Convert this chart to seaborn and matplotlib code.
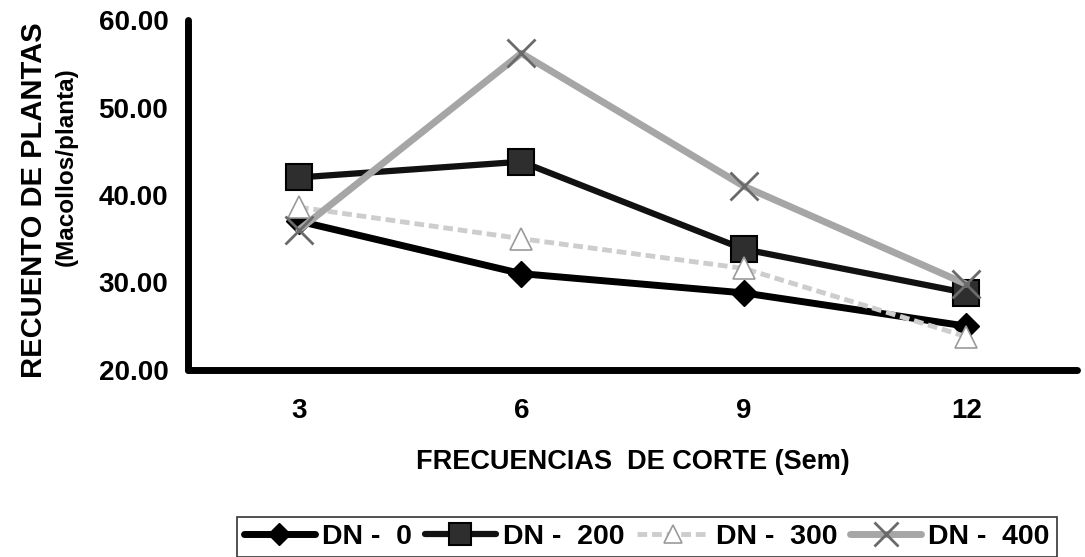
import matplotlib
matplotlib.use("Agg")
import matplotlib.pyplot as plt
from matplotlib.lines import Line2D
import seaborn as sns
import pandas as pd

# Cutting frequency (weeks) and tiller counts per nitrogen dose
frecuencias = ["3", "6", "9", "12"]
dn_0 = [37.0, 31.0, 28.8, 25.0]
dn_200 = [42.0, 43.8, 33.8, 28.8]
dn_300 = [38.6, 35.0, 31.6, 23.8]
dn_400 = [36.0, 56.2, 41.0, 29.8]
series_labels = ["DN -  0", "DN -  200", "DN -  300", "DN -  400"]
y_ticks = [20, 30, 40, 50, 60]

sns.set_theme(style="white")
plt.rcParams["font.family"] = ["Liberation Sans", "DejaVu Sans"]
plt.rcParams["font.weight"] = "bold"
plt.rcParams["text.color"] = "black"
plt.rcParams["axes.labelcolor"] = "black"
plt.rcParams["xtick.color"] = "black"
plt.rcParams["ytick.color"] = "black"

fig = plt.figure(figsize=(10.85, 5.57), dpi=100)
ax = fig.add_axes([0.173, 0.336, 0.820, 0.628])

styles = [
    dict(color="black", lw=5, marker="D", ms=13, mfc="black", mec="black", mew=1, ls="-"),
    dict(color="#111111", lw=4.5, marker="s", ms=19, mfc="#2e2e2e", mec="black", mew=1.5, ls="-"),
    dict(color="#cdcdcd", lw=3.5, marker="^", ms=16, mfc="white", mec="#9a9a9a", mew=1.2, ls=(0, (2, 1))),
    dict(color="#a6a6a6", lw=5, marker="x", ms=20, mfc="none", mec="#6a6a6a", mew=2, ls="-"),
]

x = list(range(len(frecuencias)))
for vals, label, st in zip([dn_0, dn_200, dn_300, dn_400], series_labels, styles):
    df = pd.DataFrame({"x": x, "y": vals})
    sns.lineplot(data=df, x="x", y="y", ax=ax, color=st["color"], linewidth=st["lw"],
                 linestyle=st["ls"], marker=st["marker"], markersize=st["ms"],
                 markerfacecolor=st["mfc"], markeredgecolor=st["mec"],
                 markeredgewidth=st["mew"], label=label, legend=False)

ax.set_xlim(-0.5, len(frecuencias) - 0.5)
ax.set_ylim(20, 60)
ax.set_yticks(y_ticks)
ax.set_yticklabels([f"{v:.2f}" for v in y_ticks], fontsize=20, fontweight="bold")
ax.set_xticks([i - 0.5 for i in range(len(frecuencias) + 1)])
ax.set_xticklabels([])
ax.set_xticks(x, minor=True)
ax.set_xticklabels(frecuencias, minor=True, fontsize=20, fontweight="bold")
ax.tick_params(axis="x", which="minor", length=0, pad=20)
ax.tick_params(axis="x", which="major", length=8, width=4, color="black", direction="out")
ax.tick_params(axis="y", which="major", length=8, width=4, color="black", direction="out", pad=6)

for side in ["top", "right"]:
    ax.spines[side].set_visible(False)
for side in ["left", "bottom"]:
    ax.spines[side].set_linewidth(5)
    ax.spines[side].set_color("black")
    ax.spines[side].set_capstyle("round")

ax.set_xlabel("FRECUENCIAS  DE CORTE (Sem)", fontsize=19.5, fontweight="bold", labelpad=18)
ax.set_ylabel("")
fig.text(0.031, 0.64, "RECUENTO DE PLANTAS", rotation=90, ha="center", va="center",
         fontsize=21, fontweight="bold")
fig.text(0.061, 0.70, "(Macollos/planta)", rotation=90, ha="center", va="center",
         fontsize=17.5, fontweight="bold")

handles = [Line2D([0], [0], color=st["color"], lw=st["lw"], ls=st["ls"], marker=st["marker"],
                  ms=st["ms"] * 0.85, mfc=st["mfc"], mec=st["mec"], mew=st["mew"])
           for st in styles]
leg = fig.legend(handles, series_labels, loc="upper left", bbox_to_anchor=(0.205, 0.098),
                 ncol=4, frameon=True, fancybox=False, edgecolor="black",
                 prop={"size": 20.5, "weight": "bold"}, handlelength=2.5,
                 handletextpad=0.25, columnspacing=0.45, borderpad=0.25)
leg.get_frame().set_linewidth(1.2)

fig.savefig("out.png", dpi=100)
